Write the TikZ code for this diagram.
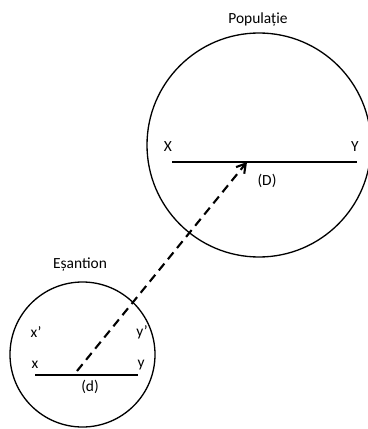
\documentclass[tikz,border=0pt]{standalone}
\usepackage{fontspec}
\setmainfont{Carlito}
\usetikzlibrary{arrows.meta}
\begin{document}
\begin{tikzpicture}[x=0.02cm,y=-0.02cm,
  ring/.style={draw,circle,line width=0.75pt,inner sep=0pt},
  lbl/.style={inner sep=0pt,font=\fontsize{8.8}{10}\selectfont},
  seg/.style={line width=0.75pt},
  link/.style={line width=1.2pt,dash pattern=on 5pt off 3.2pt,-{Straight Barb[length=5pt,width=6pt,line width=1.2pt]}}]
\useasboundingbox (0,0) rectangle (368,429);
\node[ring,minimum size=224*0.02cm] (P) at (259,145) {};
\node[ring,minimum size=145*0.02cm] (S) at (82.5,354.5) {};
\node[lbl] (tP) at (258,20) {Populație};
\node[lbl] (tS) at (80,265) {Eșantion};
\coordinate (X1) at (172,162);
\coordinate (Y1) at (357,162);
\coordinate (x1) at (35,375);
\coordinate (y1) at (138,375);
\draw[seg] (X1) -- (Y1);
\draw[seg] (x1) -- (y1);
\node[lbl] (lX) at (168,147) {X};
\node[lbl] (lY) at (355,147) {Y};
\node[lbl] (lD) at (267,181) {(D)};
\node[lbl] (lx) at (35,365) {x};
\node[lbl] (ly) at (141,365) {y};
\node[lbl] (lxp) at (36,332) {x’};
\node[lbl] (lyp) at (142,332) {y’};
\node[lbl] (ld) at (90,387) {(d)};
\coordinate (A) at (77,371);
\coordinate (B) at (247,162);
\draw[link] (A) -- (B);
\end{tikzpicture}
\end{document}
